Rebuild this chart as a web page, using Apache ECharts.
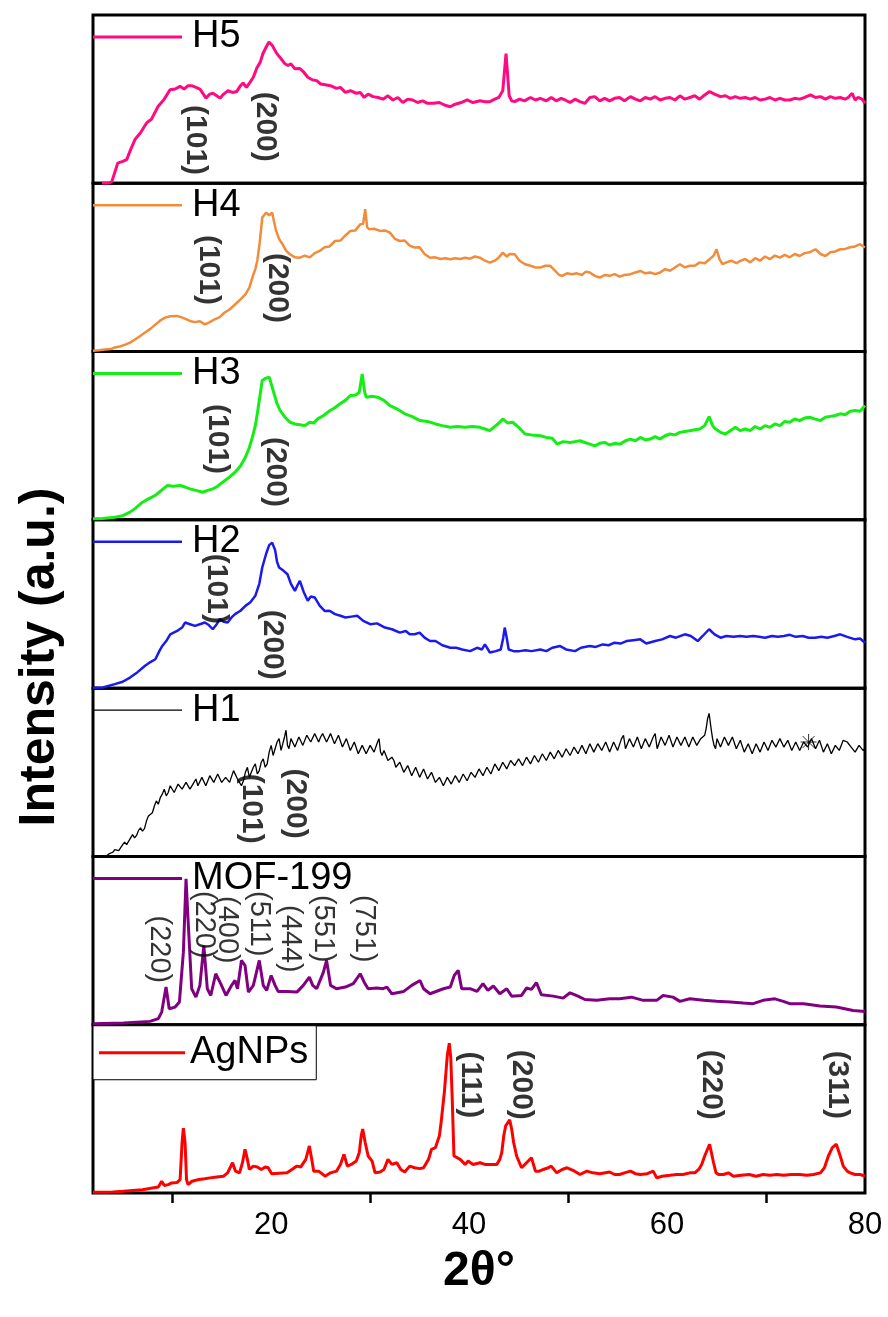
<!DOCTYPE html>
<html>
<head>
<meta charset="utf-8">
<title>XRD patterns</title>
<script src="https://cdn.jsdelivr.net/npm/echarts@6/dist/echarts.min.js"></script>
<style>
  html, body { margin: 0; padding: 0; background: #fff; }
  #xrdChart { width: 888px; height: 1317px; }
</style>
</head>
<body>
<div id="xrdChart"></div>
<script>
// tick positions on the 2θ axis
const xTickValues = [10, 30, 50, 70]
const xLabelValues = [20, 40, 60, 80]

// diffraction patterns, [2θ, relative intensity] (each panel 0..100)
const h5 = [[2.9,0],[3.5,0],[3.9,1],[4.5,12],[5.0,13],[5.4,14],[5.8,20],[6.24,26],[6.8,30],[7.43,36],[7.9,38],[8.57,45.6],[9.2,50],[9.78,55.6],[10.3,56],[10.79,57.6],[11.2,56],[11.6,58],[11.97,58],[12.4,57],[12.81,56],[13.42,50.6],[13.8,53],[14.12,53.5],[14.5,52],[14.83,50.6],[15.2,53],[15.64,55],[16.1,54],[16.52,54.5],[16.9,58],[17.16,59.6],[17.5,57],[17.86,60],[18.2,63],[18.54,68.4],[18.9,72],[19.18,77.3],[19.5,81],[19.78,84],[20.1,82],[20.56,77.2],[21.0,74],[21.4,71],[21.7,70],[22.0,71],[22.4,68],[22.9,68.2],[23.3,66],[23.7,63],[24.2,61.4],[24.6,61],[25.0,59],[25.6,58.4],[26.0,58],[26.6,56.4],[27.0,57],[27.5,54],[28.0,55],[28.6,53.5],[29.0,54],[29.4,51],[29.8,53],[30.3,51.5],[30.8,51],[31.3,50],[31.8,52],[32.3,49.5],[32.8,51],[33.3,48],[33.8,50],[34.3,49.5],[34.8,48],[35.3,49],[35.8,47.5],[36.4,47.5],[37.0,48],[37.5,46.5],[38.1,45.5],[38.6,47],[39.2,48],[39.8,49.5],[40.4,48],[41.1,49],[41.6,48.5],[42.1,48.5],[42.6,50],[43.0,51],[43.4,55],[43.73,77],[44.05,52],[44.3,49],[44.6,48.5],[45.1,50],[45.6,49],[46.2,51],[46.7,49.5],[47.2,50.5],[47.8,49],[48.3,51],[48.8,49],[49.3,50.5],[49.7,49.5],[50.2,48],[50.7,50],[51.2,48.5],[51.7,47.5],[52.2,51],[52.7,51.5],[53.2,49],[53.7,50.5],[54.2,49],[54.7,50.5],[55.2,51],[55.7,49],[56.3,51.5],[56.8,50],[57.3,49],[57.8,51],[58.3,50],[58.8,51.5],[59.3,49.5],[59.8,50.5],[60.3,51],[60.8,49.5],[61.3,52],[61.8,50],[62.3,51],[62.8,52],[63.3,50],[63.8,52.5],[64.3,54.5],[64.8,53],[65.4,51.5],[65.9,52],[66.4,50.5],[66.9,51.5],[67.4,50.5],[67.9,51],[68.4,50],[68.9,51],[69.4,49.5],[69.9,50],[70.4,51],[70.9,49.5],[71.4,50.5],[71.9,49.5],[72.4,49.5],[72.9,50.5],[73.4,50],[73.9,51],[74.5,52.5],[75.0,51],[75.5,51.5],[76.0,50],[76.5,51.5],[77.0,50.5],[77.5,51],[78.0,50],[78.3,51],[78.7,53.5],[79.0,49.5],[79.3,51],[79.7,50],[80.0,47.5]]

const h4 = [[2.0,0.5],[2.6,0.8],[3.2,1.2],[3.8,1.5],[4.2,2.4],[4.7,3],[5.2,4],[5.74,5.3],[6.2,7],[6.7,9],[7.26,11.3],[7.8,13.5],[8.3,16],[8.8,18.5],[9.3,20.2],[9.8,21],[10.5,21.2],[11.1,20],[11.8,18.2],[12.3,17.5],[12.8,18],[13.3,16.2],[13.8,17.5],[14.3,19.2],[14.8,20.5],[15.3,23.2],[15.8,25],[16.35,28],[16.9,31],[17.4,34],[17.8,38],[18.1,44],[18.4,49],[18.6,54],[18.85,65],[19.1,79.6],[19.5,82.6],[19.8,81],[20.1,82.6],[20.3,77],[20.5,71.7],[20.8,67],[21.15,63.8],[21.5,60],[21.9,57.8],[22.4,56],[22.9,55.8],[23.4,57],[23.9,56],[24.4,58.5],[24.9,59.8],[25.4,62],[25.9,62.5],[26.45,65.7],[27.0,66],[27.5,69],[28.0,71.7],[28.5,72],[29.0,75.6],[29.3,76],[29.5,84.6],[29.7,74],[29.9,72.7],[30.4,73],[31.0,71.7],[31.5,72],[32.0,70.7],[32.5,67],[33.0,65.7],[33.5,66],[34.0,63],[34.5,61.8],[35.0,62],[35.5,58],[36.05,55.8],[36.6,56],[37.1,55],[37.6,55.5],[38.1,54.9],[38.6,55.5],[39.1,55],[39.6,55.8],[40.1,55.2],[40.6,56.5],[41.1,55.8],[41.6,54],[42.1,52.9],[42.6,54],[43.0,56],[43.4,58.8],[43.8,56.5],[44.1,58],[44.6,57.8],[45.1,54],[45.65,51.9],[46.2,51],[46.7,50],[47.2,49.9],[47.7,51],[48.2,51],[48.7,48],[49.1,45.5],[49.4,45],[49.9,46.5],[50.4,46],[50.9,46.5],[51.4,45.5],[51.8,47.5],[52.2,47],[52.7,45],[53.2,44],[53.7,45.5],[54.2,45],[54.7,46],[55.2,44.5],[55.7,45.5],[56.3,46],[56.8,47],[57.3,47.9],[57.8,46.5],[58.3,47],[58.8,46],[59.3,47],[59.8,49],[60.3,48],[60.8,50],[61.3,51.9],[61.8,50],[62.3,51],[62.8,51],[63.3,53],[63.8,52.5],[64.3,54.9],[64.7,57],[65.0,60.8],[65.3,55],[65.6,51.9],[66.0,53],[66.5,54],[67.0,52.5],[67.4,53.9],[67.9,55],[68.4,53],[68.9,55.5],[69.4,54],[69.9,56.5],[70.4,55],[70.9,57],[71.4,55.8],[71.9,57.5],[72.4,56],[72.9,58],[73.4,56.8],[73.9,58.5],[74.4,59],[75.0,60.8],[75.5,58],[76.0,56.8],[76.5,59],[77.0,59.5],[77.5,60.8],[78.0,61],[78.5,62],[79.0,62.5],[79.5,63.8],[80.0,61.8]]

const h3 = [[2.0,0.6],[3.0,0.8],[4.2,1.6],[5.0,2.5],[5.74,4.6],[6.3,7],[7.0,10.5],[7.6,12.5],[8.3,14.5],[8.9,17.5],[9.5,20.4],[10.1,20],[10.8,20.4],[11.3,19.5],[11.8,18.4],[12.4,17.5],[13.1,16.4],[13.6,17.5],[14.1,18.4],[14.6,20],[15.1,22.4],[15.7,25],[16.35,28.3],[16.9,32],[17.4,37.2],[17.8,43],[18.1,49],[18.4,56],[18.6,63],[18.85,73],[19.1,82.8],[19.4,84],[19.8,84.8],[20.05,80],[20.3,74.9],[20.6,69],[20.9,65],[21.4,61],[21.9,58],[22.4,57],[22.9,56.5],[23.4,56],[23.9,58],[24.3,57.5],[24.7,60],[25.3,62],[25.95,65],[26.4,66.5],[26.96,69],[27.5,71],[28.0,73.9],[28.5,74],[28.9,75.8],[29.2,86.7],[29.45,76],[29.6,72.9],[30.2,73.5],[30.75,72.9],[31.4,71],[32.0,67.9],[32.7,66],[33.5,63],[34.2,61.5],[35.05,59],[35.8,58.5],[36.6,57],[37.3,56],[38.1,55],[38.8,55.5],[39.6,55],[40.3,55.5],[41.1,55],[41.6,54],[42.1,53],[42.7,56],[43.1,58],[43.4,60],[43.9,57.5],[44.4,58],[45.0,55],[45.65,51],[46.3,50.5],[47.2,50],[47.8,49],[48.4,48.5],[48.9,45],[49.5,46.5],[50.2,46],[50.7,46.5],[51.2,47],[51.7,46],[52.2,45],[52.7,44],[53.2,45.5],[53.7,46],[54.2,44.5],[54.7,45.5],[55.25,45],[55.8,47],[56.3,48],[56.8,47],[57.3,49],[57.8,47.5],[58.3,48],[58.8,49.5],[59.3,48],[59.8,50],[60.3,51],[60.8,50.5],[61.3,52],[61.8,52.5],[62.3,53],[62.8,53.5],[63.3,54],[63.8,56],[64.25,61.4],[64.6,56],[64.9,54],[65.4,52],[65.9,51],[66.4,53],[66.9,55],[67.4,53],[67.9,54],[68.4,53],[68.9,55.5],[69.4,54],[69.9,56],[70.4,55],[70.9,57],[71.4,56],[71.9,58.5],[72.4,58],[72.9,60],[73.4,59],[73.9,60.5],[74.4,61],[74.9,60],[75.5,59],[76.0,61],[76.5,61.5],[77.0,62],[77.5,63],[78.0,62.5],[78.5,64.5],[79.0,65],[79.5,64.5],[80.0,68]]

const h2 = [[2.0,0.3],[3.0,0.4],[4.2,2.4],[5.0,3.8],[5.74,6.3],[6.5,9.5],[7.26,13.3],[7.8,15.5],[8.3,17.2],[8.7,22],[9.0,25.1],[9.4,28],[9.8,32],[10.5,34],[11.0,36],[11.3,39],[11.8,38],[12.3,37],[12.8,38],[13.3,39],[13.7,37.5],[14.1,35],[14.5,38],[14.8,41],[15.2,39.5],[15.6,39],[16.0,42],[16.35,44],[16.9,46],[17.4,48.9],[17.9,51],[18.4,54.9],[18.8,62],[19.1,71.7],[19.5,80],[19.8,85],[20.1,86.5],[20.4,82],[20.6,75],[20.8,71.7],[21.2,70],[21.65,67.7],[22.0,62],[22.4,57.8],[22.65,61],[22.9,63.8],[23.3,57],[23.7,51.9],[24.0,54.5],[24.4,53.9],[24.9,49],[25.4,45.9],[25.9,46],[26.45,44],[27.0,43],[27.5,42],[28.1,42.5],[28.7,43],[29.3,40],[30.0,38],[30.7,38.5],[31.5,36],[32.2,35],[33.0,33],[33.6,34],[34.0,32],[34.5,32],[35.0,33],[35.5,30],[36.05,28],[36.6,28],[37.3,25.5],[38.1,24],[38.7,24],[39.3,23],[40.1,22],[40.8,24],[41.3,23],[41.6,26],[42.1,21.2],[42.7,22],[43.2,23],[43.45,30],[43.6,36],[43.8,30],[44.0,23],[44.5,22],[45.1,22],[45.7,22.5],[46.3,22],[47.2,23],[47.8,22],[48.4,24],[49.2,25],[49.8,23],[50.7,22],[51.3,24],[52.2,25],[52.8,24.5],[53.5,26],[54.1,25.5],[54.7,27],[55.3,26.5],[55.9,28],[56.6,28.5],[57.3,29],[57.9,26.5],[58.8,28],[59.5,29],[60.3,31],[60.9,30],[61.8,32],[62.4,31],[63.1,28],[63.6,31],[64.25,35],[64.8,32],[65.4,30],[66.0,31],[66.7,30.5],[67.4,31],[68.0,30.5],[68.7,31],[69.3,30.5],[69.9,30],[70.6,31],[71.2,30.5],[71.8,31],[72.4,31.7],[73.0,30.5],[73.7,31],[74.3,30],[74.95,30],[75.6,30.5],[76.2,30],[76.9,31],[77.5,32],[78.2,30.5],[79.0,29],[79.5,29.5],[80.0,27]]

const h1 = [[3.3,0],[3.6,1.5],[4.0,2.5],[4.2,4],[4.4,5],[4.6,3.5],[4.8,4.5],[5.0,7],[5.2,8.5],[5.4,7],[5.6,8],[5.8,11],[6.0,13],[6.2,11],[6.4,12.5],[6.6,15.5],[6.8,17],[7.0,15],[7.2,16.5],[7.4,21],[7.6,24],[7.8,23],[8.0,26],[8.2,30],[8.4,33],[8.6,31],[8.8,35],[9.0,37],[9.2,40],[9.4,36],[9.6,38],[9.8,42],[10.0,43],[10.2,38],[10.4,39],[10.6,43],[10.8,44],[11.0,40],[11.2,40],[11.4,44],[11.6,45],[11.8,40],[12.0,41],[12.2,44],[12.4,46],[12.6,42],[12.8,42],[13.0,47],[13.2,47],[13.4,42],[13.6,43],[13.8,48],[14.0,49],[14.2,44],[14.4,44],[14.6,49],[14.8,50],[15.0,44],[15.2,43],[15.4,47],[15.6,48],[15.8,44],[16.0,45],[16.2,51],[16.4,52],[16.6,46],[16.8,44],[17.0,42],[17.2,45],[17.4,50],[17.6,53],[17.8,47],[18.0,48],[18.2,53],[18.4,55],[18.6,49],[18.8,51],[19.0,56],[19.2,58],[19.4,53],[19.6,55],[19.8,62],[20.0,66],[20.2,60],[20.4,61],[20.6,68],[20.8,70],[21.0,63],[21.2,64],[21.35,71],[21.5,75],[21.65,66],[21.8,64],[22.0,70],[22.2,71],[22.4,65],[22.6,66],[22.8,71],[23.0,72],[23.2,66],[23.4,67],[23.6,72],[23.8,73],[24.0,68],[24.2,69],[24.4,73],[24.6,72],[24.8,68],[25.0,71],[25.2,73],[25.4,74],[25.6,68],[25.8,69],[26.0,73],[26.2,72],[26.4,67],[26.6,68],[26.8,72],[27.0,71],[27.2,65],[27.4,66],[27.6,70],[27.8,69],[28.0,63],[28.2,64],[28.4,68],[28.6,67],[28.8,61],[29.0,62],[29.2,66],[29.4,65],[29.6,61],[29.8,62],[30.0,66],[30.2,67],[30.4,62],[30.6,63],[30.75,68],[30.9,70],[31.05,62],[31.2,60],[31.4,63],[31.6,62],[31.8,57],[32.0,56],[32.2,59],[32.4,57],[32.6,53],[32.8,52],[33.0,56],[33.2,55],[33.4,50],[33.6,50],[33.8,54],[34.0,53],[34.2,48],[34.4,49],[34.6,53],[34.8,52],[35.0,47],[35.2,48],[35.4,52],[35.6,51],[35.8,46],[36.0,47],[36.2,50],[36.4,49],[36.6,44],[36.8,44],[37.0,47],[37.2,46],[37.4,42],[37.6,43],[37.8,47],[38.0,48],[38.2,43],[38.4,44],[38.6,48],[38.8,48],[39.0,44],[39.2,45],[39.4,49],[39.6,50],[39.8,45],[40.0,46],[40.2,50],[40.4,51],[40.6,47],[40.8,48],[41.0,52],[41.2,52],[41.4,48],[41.6,49],[41.8,53],[42.0,54],[42.2,49],[42.4,50],[42.6,55],[42.8,56],[43.0,51],[43.2,52],[43.4,56],[43.6,57],[43.8,52],[44.0,53],[44.2,57],[44.4,58],[44.6,54],[44.8,55],[45.0,58],[45.2,59],[45.4,54],[45.6,55],[45.8,59],[46.0,60],[46.2,55],[46.4,56],[46.6,60],[46.8,61],[47.0,56],[47.2,57],[47.4,61],[47.6,62],[47.8,57],[48.0,58],[48.2,62],[48.4,63],[48.6,58],[48.8,59],[49.0,63],[49.2,64],[49.4,59],[49.6,60],[49.8,64],[50.0,65],[50.2,60],[50.4,61],[50.6,65],[50.8,66],[51.0,61],[51.2,62],[51.4,66],[51.6,65],[51.8,61],[52.0,62],[52.2,67],[52.4,68],[52.6,62],[52.8,63],[53.0,67],[53.2,66],[53.4,63],[53.6,64],[53.8,68],[54.0,69],[54.2,62],[54.4,63],[54.6,68],[54.8,67],[55.0,63],[55.2,64],[55.4,70],[55.6,72],[55.8,64],[56.0,65],[56.2,70],[56.4,69],[56.6,65],[56.8,66],[57.0,71],[57.2,70],[57.4,64],[57.6,65],[57.8,70],[58.0,69],[58.2,65],[58.4,66],[58.6,71],[58.8,73],[59.0,64],[59.2,64],[59.4,71],[59.6,70],[59.8,66],[60.0,67],[60.2,72],[60.4,71],[60.6,65],[60.8,66],[61.0,71],[61.2,72],[61.4,66],[61.6,67],[61.8,71],[62.0,70],[62.2,65],[62.4,66],[62.6,71],[62.8,72],[63.0,66],[63.2,67],[63.4,70],[63.6,69],[63.8,72],[63.95,76],[64.1,82],[64.25,85],[64.45,76],[64.6,70],[64.75,66],[64.9,64],[65.05,70],[65.2,70],[65.4,65],[65.6,66],[65.8,71],[66.0,71],[66.2,66],[66.4,67],[66.6,71],[66.8,70],[67.0,64],[67.2,65],[67.4,69],[67.6,68],[67.8,62],[68.0,63],[68.2,67],[68.4,66],[68.6,61],[68.8,62],[69.0,67],[69.2,67],[69.4,62],[69.6,63],[69.8,68],[70.0,68],[70.2,63],[70.4,64],[70.6,69],[70.8,69],[71.0,65],[71.2,66],[71.4,70],[71.6,70],[71.8,65],[72.0,66],[72.2,69],[72.4,68],[72.6,63],[72.8,64],[73.0,68],[73.2,67],[73.4,63],[73.6,64],[73.8,68],[74.0,68],[74.2,65],[74.4,66],[74.6,70],[74.8,69],[75.0,64],[75.2,65],[75.4,69],[75.6,68],[75.8,62],[76.0,63],[76.2,67],[76.4,66],[76.6,61],[76.8,62],[77.0,66],[77.2,67],[77.4,63],[77.6,64],[77.8,69],[78.0,70],[78.2,68],[78.4,69],[78.6,65],[78.8,66],[79.0,62],[79.2,61],[79.4,66],[79.6,67],[79.8,63],[80.0,64]]

const mof199 = [[2.0,0.6],[5.07,1],[7.76,2],[8.6,3.6],[8.94,7.5],[9.38,22.4],[9.7,9.5],[10.3,10.5],[10.73,13.5],[11.13,43],[11.4,86.7],[11.6,63],[11.97,21.4],[12.4,16.4],[12.8,23.4],[13.2,47],[13.55,21.4],[13.9,17.4],[14.4,30.3],[14.9,24.4],[15.44,17.4],[16.0,23.4],[16.35,26.3],[16.6,21.4],[17.0,38.2],[17.36,35.2],[17.7,19.4],[18.2,23.4],[18.8,38.2],[19.2,23.4],[19.55,20.4],[20.0,29.3],[20.4,23.4],[20.7,19.8],[21.6,19.8],[22.6,19.4],[23.25,23.4],[23.86,28.3],[24.2,23.4],[24.6,21.4],[25.28,31.3],[25.6,38.2],[26.0,23.4],[26.6,21.4],[27.5,22.4],[28.3,24.4],[29.0,30.3],[29.4,25.3],[29.8,21.4],[30.7,21.8],[31.3,21.4],[31.7,22.4],[32.2,18.4],[33.4,19.8],[34.2,23.4],[35.04,26.3],[35.4,21.4],[36.05,18.4],[37.4,21.4],[38.1,22.4],[38.5,29.3],[38.9,32.3],[39.25,21.4],[40.1,21.4],[40.8,19.8],[41.4,24.4],[41.9,20.4],[42.45,23],[43.1,18.4],[43.8,21.4],[44.3,17],[45.3,17.4],[45.8,21.8],[46.3,21],[46.8,25],[47.3,17.8],[48.5,17],[49.5,15.8],[50.2,19],[51.0,17],[51.7,15],[52.9,14.5],[54.2,15.4],[55.2,15.4],[56.4,16.4],[57.6,14.5],[58.95,14.5],[59.6,17.4],[60.6,16.4],[61.3,13.9],[62.3,15.4],[63.7,14.5],[65.0,13.9],[66.4,13.5],[67.7,12.9],[68.7,12.5],[69.7,14.5],[70.9,15.4],[71.75,13.9],[72.4,12.5],[73.8,12.5],[75.45,11.1],[77.1,10.5],[78.8,8.5],[80.0,7.9]]

const agnps = [[2.0,0.4],[3.0,0.4],[4.0,0.6],[5.07,1],[6.0,1.5],[7.0,2],[8.0,3],[8.6,3.6],[8.94,7],[9.2,4.5],[9.6,5],[9.95,6],[10.5,6.3],[10.8,8],[11.0,30],[11.13,38.6],[11.3,30],[11.45,8],[11.6,5],[12.0,7],[12.7,8],[13.3,8.5],[13.8,9],[14.5,9.5],[15.2,10],[15.6,12],[16.1,18],[16.4,13],[16.8,12],[17.1,18],[17.36,26],[17.6,20],[17.8,14],[18.2,16],[18.6,15.5],[19.0,14],[19.4,15.5],[19.7,15],[20.05,11.5],[20.8,11.8],[21.6,12],[22.1,14],[22.6,16],[23.0,15.5],[23.5,20],[23.86,28],[24.1,20],[24.3,13],[24.8,13],[25.44,10],[26.0,12],[26.6,13],[27.0,17],[27.36,23],[27.7,16],[28.1,17],[28.6,19],[28.9,24],[29.1,34],[29.25,38],[29.5,30],[29.8,22],[30.2,19],[30.5,12],[31.0,12.5],[31.4,14],[31.8,20],[32.2,17],[32.7,18],[33.1,14],[33.5,12.5],[34.0,16],[34.5,15],[35.0,14.5],[35.4,15],[35.9,20],[36.2,26],[36.6,27],[37.0,34],[37.2,43.5],[37.5,60],[37.8,82],[38.0,89],[38.15,80],[38.3,55],[38.47,22],[38.8,21],[39.1,20],[39.6,17],[39.9,19],[40.4,17],[41.1,18],[41.6,17],[42.2,17],[42.8,17],[43.1,20],[43.3,24],[43.5,34],[43.7,40],[44.1,43.5],[44.3,38],[44.5,30],[44.8,22],[45.3,15],[45.8,18],[46.3,21],[46.7,13],[47.1,13],[47.5,14],[48.0,15],[48.3,16],[48.85,12],[49.4,14],[49.9,15],[50.5,13.5],[51.2,11],[51.9,13],[52.5,12],[53.2,11.5],[54.2,12.5],[54.7,11],[55.2,11],[55.7,12],[56.3,13],[56.8,11.5],[57.3,11],[58.0,11.5],[58.6,13],[58.96,9],[59.5,10],[60.3,10.5],[61.0,11],[61.6,11],[62.3,12],[62.8,12],[63.2,14],[63.5,17],[63.8,22],[64.3,29],[64.7,18],[64.95,12],[65.2,11],[65.7,11],[66.2,12],[66.7,10],[67.5,10.5],[68.3,11],[69.0,10],[69.7,11],[70.4,10.5],[71.1,11],[71.8,10.5],[72.5,11],[73.4,11],[74.1,10.5],[74.8,11],[75.5,12],[75.9,15],[76.3,22],[76.7,27],[77.1,29],[77.5,22],[77.8,16],[78.2,13],[78.5,12],[79.0,11],[79.5,11],[80.0,10]]

// reflection labels, [2θ, intensity, text]
const h5Notes = [[12.3, 25.7, '(101)'], [19.4, 33.6, '(200)']]
const h4Notes = [[13.67, 48.5, '(101)'], [20.64, 37.8, '(200)']]
const h3Notes = [[14.58, 48, '(101)'], [20.39, 28.5, '(200)']]
const h2Notes = [[14.43, 59, '(101)'], [20.14, 25.8, '(200)']]
const h1Notes = [[17.96, 28.4, '(101)'], [22.41, 31.4, '(200)']]
const mofNotes = [[8.67, 44.8, '(220)'], [13.2, 59.4, '(220)'], [15.5, 56.4, '(400)'], [18.77, 60, '(511)'], [21.9, 51, '(444)'], [25.24, 57, '(551)'], [29.38, 57, '(751)']]
const agNotes = [[40.1, 64.3, '(111)'], [45.3, 64.3, '(200)'], [64.5, 64.3, '(220)'], [77.2, 64.3, '(311)']]

// asterisk marked on H1
const h1Star = [[74.3, 68]]

const FONT = 'Arial, "Liberation Sans", Helvetica, sans-serif'
const PANEL_TOP = 15
const PANEL_H = 168.29
const PLOT_LEFT = 93
const PLOT_W = 772

const panels = [
  { name: 'H5', data: h5, color: '#ff0a80', width: 3, notes: h5Notes, bold: true },
  { name: 'H4', data: h4, color: '#f28c3a', width: 2.5, notes: h4Notes, bold: true },
  { name: 'H3', data: h3, color: '#14ee14', width: 3, notes: h3Notes, bold: true },
  { name: 'H2', data: h2, color: '#1a1aee', width: 2.5, notes: h2Notes, bold: true },
  { name: 'H1', data: h1, color: '#000000', width: 1.3, notes: h1Notes, bold: true },
  { name: 'MOF-199', data: mof199, color: '#800080', width: 3, notes: mofNotes, bold: false },
  { name: 'AgNPs', data: agnps, color: '#ff0000', width: 3, notes: agNotes, bold: true }
]

const grid = []
const xAxis = []
const yAxis = []
const series = []
const legend = []

panels.forEach((p, i) => {
  const top = PANEL_TOP + i * PANEL_H
  const last = i === panels.length - 1

  grid.push({
    left: PLOT_LEFT, width: PLOT_W, top: top, height: PANEL_H,
    show: true, borderColor: '#000', borderWidth: 3, backgroundColor: 'transparent'
  })

  if (last) {
    xAxis.push({
      gridIndex: i, type: 'value', min: 2, max: 80, position: 'bottom',
      axisLine: { show: false },
      splitLine: { show: false },
      axisTick: { show: true, length: 10, customValues: xTickValues, lineStyle: { color: '#000', width: 2.5 } },
      axisLabel: { customValues: xLabelValues, margin: 17, fontSize: 31, color: '#000', fontFamily: FONT },
      name: '2θ°', nameLocation: 'middle', nameGap: 55,
      nameTextStyle: { fontSize: 48, fontWeight: 'bold', color: '#000', fontFamily: FONT }
    })
  } else {
    xAxis.push({ gridIndex: i, type: 'value', min: 2, max: 80, show: false })
  }
  yAxis.push({ gridIndex: i, type: 'value', min: 0, max: 100, show: false })

  series.push({
    name: p.name, type: 'line', xAxisIndex: i, yAxisIndex: i,
    data: p.data, symbol: 'none', showSymbol: false,
    lineStyle: { color: p.color, width: p.width }, itemStyle: { color: p.color },
    z: 3
  })

  series.push({
    name: p.name + ' reflections', type: 'scatter', xAxisIndex: i, yAxisIndex: i,
    data: p.notes, symbolSize: 1, itemStyle: { color: 'rgba(0,0,0,0)' },
    silent: true, z: 4,
    label: {
      show: true, position: 'inside', rotate: -90,
      formatter: (d) => d.value[2],
      fontSize: p.bold ? 30 : 29, fontWeight: p.bold ? 'bold' : 'normal', color: '#000', fontFamily: FONT
    }
  })

  // legend: a plain line sample (thin rect) followed by the sample name
  if (last) {
    legend.push({
      data: [p.name], left: PLOT_LEFT, top: top + 1, orient: 'horizontal',
      icon: 'rect', padding: [8, 8, 8, 6], itemWidth: 86, itemHeight: p.width,
      backgroundColor: '#fff', borderColor: '#000', borderWidth: 1, borderRadius: 0,
      selectedMode: false,
      textStyle: { fontSize: 38, lineHeight: 38, color: '#000', fontFamily: FONT }
    })
  } else {
    legend.push({
      data: [p.name], left: PLOT_LEFT, top: top + 3, orient: 'horizontal',
      icon: 'rect', padding: 0, itemWidth: 89, itemHeight: p.width, selectedMode: false,
      textStyle: { fontSize: 38, lineHeight: 38, color: '#000', fontFamily: FONT, padding: [0, 0, 0, 5] }
    })
  }
})

// star marker on the H1 pattern
series.push({
  name: 'H1 mark', type: 'scatter', xAxisIndex: 4, yAxisIndex: 4,
  data: h1Star, symbol: 'path://M8,0L8,16M0,8L16,8M2,2L14,14M2,14L14,2',
  symbolSize: 16, silent: true, z: 5,
  itemStyle: { color: 'none', borderColor: '#000', borderWidth: 1 }
})

// invisible grid only used to place the shared y-axis title
grid.push({ left: PLOT_LEFT, width: PLOT_W, top: PANEL_TOP, height: 1284, show: false })
xAxis.push({ gridIndex: 7, type: 'value', min: 0, max: 1, show: false })
yAxis.push({
  gridIndex: 7, type: 'value', min: 0, max: 1,
  axisLine: { show: false }, axisTick: { show: false }, axisLabel: { show: false }, splitLine: { show: false },
  name: 'Intensity (a.u.)', nameLocation: 'middle', nameGap: 28, nameRotate: 90,
  nameTextStyle: { fontSize: 50, fontWeight: 'bold', color: '#000', fontFamily: FONT }
})

const myChart = echarts.init(document.getElementById('xrdChart'))
myChart.setOption({
  backgroundColor: '#fff',
  animation: false,
  grid: grid,
  xAxis: xAxis,
  yAxis: yAxis,
  legend: legend,
  series: series
})
</script>
</body>
</html>
